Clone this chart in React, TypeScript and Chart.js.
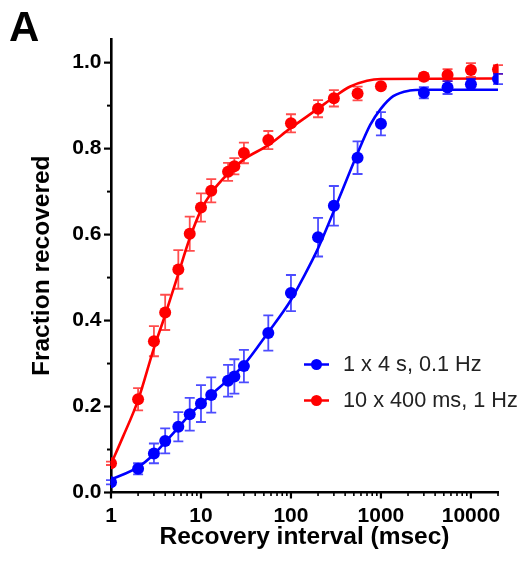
import { useEffect, useRef } from 'react';
import { Chart, registerables } from 'chart.js';

Chart.register(...registerables);

// ---- data ----
const intervalsMs = [1, 2, 3, 4, 5.6, 7.5, 10, 13, 20, 23.5, 30, 56, 100, 200, 300, 550, 1000, 3000, 5500, 10000, 20000];

const blueMeans = [0.024, 0.055, 0.091, 0.12, 0.153, 0.182, 0.207, 0.227, 0.26, 0.27, 0.294, 0.371, 0.464, 0.594, 0.667, 0.779, 0.858, 0.930, 0.942, 0.950, 0.962];
const blueSem = [0.005, 0.013, 0.023, 0.029, 0.034, 0.038, 0.043, 0.041, 0.037, 0.04, 0.038, 0.041, 0.042, 0.045, 0.046, 0.038, 0.027, 0.013, 0.015, 0.012, 0.012];

const redMeans = [0.068, 0.217, 0.352, 0.419, 0.519, 0.602, 0.663, 0.702, 0.746, 0.759, 0.790, 0.820, 0.859, 0.893, 0.917, 0.928, 0.945, 0.967, 0.971, 0.983, 0.984];
const redSem = [0.004, 0.026, 0.035, 0.041, 0.045, 0.040, 0.033, 0.027, 0.021, 0.019, 0.024, 0.021, 0.021, 0.020, 0.019, 0.016, 0.004, 0.008, 0.014, 0.016, 0.010];

const blueFitX = [1, 2, 3, 4, 5.5, 7.4, 10, 13, 20, 30, 56, 98, 137, 200, 300, 550, 760, 1000, 1370, 2090, 3000, 20000];
const blueFitY = [0.030, 0.059, 0.089, 0.117, 0.149, 0.180, 0.206, 0.228, 0.262, 0.297, 0.373, 0.445, 0.50, 0.568, 0.655, 0.789, 0.855, 0.893, 0.922, 0.935, 0.937, 0.937];

const redFitX = [1, 1.36, 2, 3, 4, 5.55, 7.4, 10, 13, 20, 30, 56, 98, 200, 300, 450, 700, 1000, 20000];
const redFitY = [0.066, 0.13, 0.215, 0.336, 0.413, 0.506, 0.588, 0.657, 0.697, 0.742, 0.775, 0.808, 0.847, 0.893, 0.92, 0.944, 0.958, 0.962, 0.963];

const seriesLabels = ['1 x 4 s, 0.1 Hz', '10 x 400 ms, 1 Hz'];
const seriesColors = ['#0000ff', '#ff0000'];
const errorColors = ['rgba(0,0,255,0.7)', 'rgba(255,0,0,0.7)'];

const xTickLabels = [1, 10, 100, 1000, 10000];
const xMinorMultipliers = [2, 3, 4, 5, 6, 7, 8, 9];
const yTickLabels = [0, 0.2, 0.4, 0.6, 0.8, 1.0];
const yMinorTicks = [0.1, 0.3, 0.5, 0.7, 0.9];

const X_MIN = 1;
const X_MAX = 20000;
const Y_MIN = 0;
const Y_MAX = 1.055;

const FONT = '"Liberation Sans", Arial, Helvetica, sans-serif';

const toPoints = (xs: number[], ys: number[]) => xs.map((x, i) => ({ x, y: ys[i] }));

const errorBarPlugin = {
  id: 'errorBars',
  beforeDatasetDraw(chart: any, args: any) {
    const ds = chart.data.datasets[args.index];
    if (!ds.errors) return;
    const meta = chart.getDatasetMeta(args.index);
    const yScale = chart.scales.y;
    const ctx = chart.ctx;
    ctx.save();
    ctx.strokeStyle = ds.errorColor;
    ctx.lineWidth = 1.8;
    meta.data.forEach((pt: any, i: number) => {
      const v = ds.data[i].y;
      const e = ds.errors[i];
      const top = yScale.getPixelForValue(v + e);
      const bot = yScale.getPixelForValue(v - e);
      const cap = 5;
      ctx.beginPath();
      ctx.moveTo(pt.x, top);
      ctx.lineTo(pt.x, bot);
      ctx.moveTo(pt.x - cap, top);
      ctx.lineTo(pt.x + cap, top);
      ctx.moveTo(pt.x - cap, bot);
      ctx.lineTo(pt.x + cap, bot);
      ctx.stroke();
    });
    ctx.restore();
  },
};

const tickMarksPlugin = {
  id: 'tickMarks',
  afterDraw(chart: any) {
    const { ctx, chartArea, scales } = chart;
    const xs = scales.x;
    const ys = scales.y;
    ctx.save();
    ctx.strokeStyle = '#000';
    const drawY = (v: number, len: number) => {
      const p = ys.getPixelForValue(v);
      ctx.beginPath();
      ctx.moveTo(chartArea.left, p);
      ctx.lineTo(chartArea.left - len, p);
      ctx.stroke();
    };
    ctx.lineWidth = 2.2;
    yTickLabels.forEach((v) => drawY(v, 7));
    ctx.lineWidth = 2;
    yMinorTicks.forEach((v) => drawY(v, 4));
    const drawX = (v: number, len: number) => {
      const p = xs.getPixelForValue(v);
      ctx.beginPath();
      ctx.moveTo(p, chartArea.bottom);
      ctx.lineTo(p, chartArea.bottom + len);
      ctx.stroke();
    };
    ctx.lineWidth = 2.2;
    xTickLabels.forEach((v) => drawX(v, 6));
    ctx.lineWidth = 1.6;
    xTickLabels.forEach((d) =>
      xMinorMultipliers.forEach((m) => {
        const v = d * m;
        if (v <= X_MAX) drawX(v, 3.5);
      })
    );
    ctx.restore();
  },
};

const annotationPlugin = {
  id: 'annotations',
  afterDraw(chart: any) {
    const { ctx, chartArea } = chart;
    ctx.save();
    ctx.fillStyle = '#000';
    ctx.font = `bold 42px ${FONT}`;
    ctx.textBaseline = 'alphabetic';
    ctx.textAlign = 'left';
    ctx.fillText('A', 9, 41);
    const lx = chartArea.left + 193;
    const rowY = [chartArea.top + 325.5, chartArea.top + 361.5];
    seriesLabels.forEach((label, i) => {
      const y = rowY[i];
      ctx.strokeStyle = seriesColors[i];
      ctx.lineWidth = 2.5;
      ctx.beginPath();
      ctx.moveTo(lx, y);
      ctx.lineTo(lx + 25, y);
      ctx.stroke();
      ctx.fillStyle = seriesColors[i];
      ctx.beginPath();
      ctx.arc(lx + 12.5, y, 5.5, 0, Math.PI * 2);
      ctx.fill();
      ctx.fillStyle = '#222';
      ctx.font = `21.7px ${FONT}`;
      ctx.textBaseline = 'middle';
      ctx.fillText(label, lx + 39, y + 1);
    });
    ctx.restore();
  },
};

export default function App() {
  const canvasRef = useRef<HTMLCanvasElement | null>(null);

  useEffect(() => {
    document.body.style.margin = '0';
    const canvas = canvasRef.current;
    if (!canvas) return;

    const chart = new Chart(canvas, {
      type: 'line',
      data: {
        datasets: [
          {
            label: seriesLabels[0],
            data: toPoints(intervalsMs, blueMeans),
            errors: blueSem,
            errorColor: errorColors[0],
            showLine: false,
            pointRadius: 6,
            pointBorderWidth: 0,
            pointBackgroundColor: seriesColors[0],
            borderColor: seriesColors[0],
            order: 1,
          } as any,
          {
            label: 'fit1',
            data: toPoints(blueFitX, blueFitY),
            borderColor: seriesColors[0],
            borderWidth: 2.6,
            pointRadius: 0,
            cubicInterpolationMode: 'monotone',
            fill: false,
            order: 2,
          } as any,
          {
            label: seriesLabels[1],
            data: toPoints(intervalsMs, redMeans),
            errors: redSem,
            errorColor: errorColors[1],
            showLine: false,
            pointRadius: 6,
            pointBorderWidth: 0,
            pointBackgroundColor: seriesColors[1],
            borderColor: seriesColors[1],
            order: 3,
          } as any,
          {
            label: 'fit2',
            data: toPoints(redFitX, redFitY),
            borderColor: seriesColors[1],
            borderWidth: 2.6,
            pointRadius: 0,
            cubicInterpolationMode: 'monotone',
            fill: false,
            order: 4,
          } as any,
        ],
      },
      options: {
        animation: false,
        responsive: true,
        maintainAspectRatio: false,
        layout: { padding: { top: 39, right: 25, left: 0, bottom: 0 } },
        plugins: {
          legend: { display: false },
          tooltip: { enabled: false },
        },
        events: [],
        scales: {
          x: {
            type: 'logarithmic',
            min: X_MIN,
            max: X_MAX,
            grid: { display: false, drawTicks: false, tickLength: 0 },
            border: { display: true, color: '#000', width: 2.6 },
            afterBuildTicks: (scale: any) => {
              scale.ticks = xTickLabels.map((v) => ({ value: v }));
            },
            afterFit: (scale: any) => {
              scale.height = 75.5;
            },
            ticks: {
              autoSkip: false,
              maxRotation: 0,
              padding: 11.4,
              color: '#000',
              font: { family: FONT, size: 21, weight: 'bold' },
              callback: (v: any) => String(v),
            },
            title: {
              display: true,
              text: 'Recovery interval (msec)',
              color: '#000',
              font: { family: FONT, size: 24.5, weight: 'bold' },
              padding: { top: 0, bottom: 16.3 },
            },
          },
          y: {
            type: 'linear',
            min: Y_MIN,
            max: Y_MAX,
            grid: { display: false, drawTicks: false, tickLength: 0 },
            border: { display: true, color: '#000', width: 2.6 },
            afterBuildTicks: (scale: any) => {
              scale.ticks = yTickLabels.map((v) => ({ value: v }));
            },
            afterFit: (scale: any) => {
              scale.width = 111;
            },
            ticks: {
              padding: 9.5,
              color: '#000',
              font: { family: FONT, size: 21, weight: 'bold' },
              callback: (v: any) => Number(v).toFixed(1),
            },
            title: {
              display: true,
              text: 'Fraction recovered',
              color: '#000',
              font: { family: FONT, size: 24.5, weight: 'bold' },
              padding: { top: 27.8, bottom: 0 },
            },
          },
        },
      } as any,
      plugins: [errorBarPlugin, tickMarksPlugin, annotationPlugin],
    });

    return () => chart.destroy();
  }, []);

  return (
    <div style={{ width: 523, height: 568, position: 'relative' }}>
      <canvas ref={canvasRef} />
    </div>
  );
}
